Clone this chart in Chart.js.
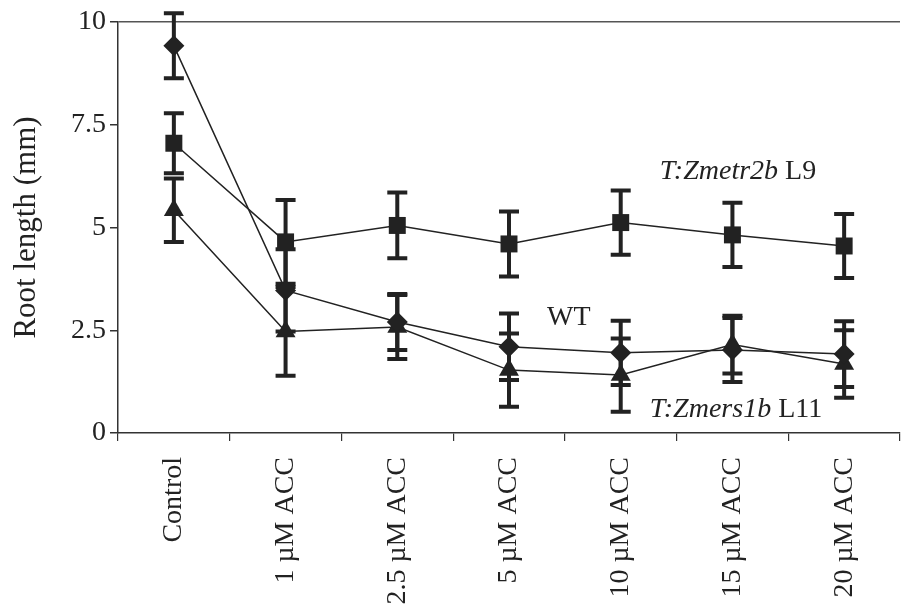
<!DOCTYPE html>
<html lang="en">
<head>
    <meta charset="UTF-8">
    <title>Root length</title>
    <script src="https://cdn.jsdelivr.net/npm/chart.js@4/dist/chart.umd.min.js"></script>
    <style>
        body { margin: 0; background: #fff; }
        #wrap { width: 901px; height: 616px; }
    </style>
</head>
<body>
<div id="wrap"><canvas id="main_chart"></canvas></div>
<script>
    const categories = ['Control', '1 µM ACC', '2.5 µM ACC', '5 µM ACC', '10 µM ACC', '15 µM ACC', '20 µM ACC'];
    const yTicks = [0, 2.5, 5, 7.5, 10];

    // T:Zmetr2b L9 (squares)
    const metrValues = [7.05, 4.65, 5.05, 4.6, 5.12, 4.82, 4.55];
    const metrErrors = [0.73, 1.02, 0.8, 0.79, 0.78, 0.78, 0.78];
    // WT (diamonds)
    const wtValues = [9.42, 3.47, 2.7, 2.1, 1.95, 2.02, 1.92];
    const wtErrors = [0.79, 1.0, 0.68, 0.81, 0.78, 0.78, 0.8];
    // T:Zmers1b L11 (triangles)
    const mersValues = [5.42, 2.47, 2.58, 1.53, 1.41, 2.15, 1.68];
    const mersErrors = [0.77, 1.08, 0.78, 0.89, 0.89, 0.7, 0.82];

    const INK = '#222';
    const FONT = '"Liberation Serif", "Times New Roman", serif';

    // error bars, drawn under the markers
    const errorBarPlugin = {
        id: 'errorBars',
        beforeDatasetsDraw(chart) {
            const ctx = chart.ctx;
            const y = chart.scales.y;
            ctx.save();
            ctx.strokeStyle = INK;
            ctx.lineWidth = 4;
            ctx.lineCap = 'butt';
            chart.data.datasets.forEach((ds, i) => {
                const meta = chart.getDatasetMeta(i);
                meta.data.forEach((pt, j) => {
                    const top = y.getPixelForValue(ds.data[j] + ds.errors[j]);
                    const bottom = y.getPixelForValue(ds.data[j] - ds.errors[j]);
                    ctx.beginPath();
                    ctx.moveTo(pt.x, top);
                    ctx.lineTo(pt.x, bottom);
                    ctx.moveTo(pt.x - 10, top);
                    ctx.lineTo(pt.x + 10, top);
                    ctx.moveTo(pt.x - 10, bottom);
                    ctx.lineTo(pt.x + 10, bottom);
                    ctx.stroke();
                });
            });
            ctx.restore();
        }
    };

    // series names written next to the lines
    const seriesLabels = [
        {italic: 'T:Zmetr2b', plain: ' L9', x: 4.35, y: 6.35},
        {italic: '', plain: 'WT', x: 3.34, y: 2.8},
        {italic: 'T:Zmers1b', plain: ' L11', x: 4.26, y: 0.56}
    ];
    const labelPlugin = {
        id: 'seriesLabels',
        afterDraw(chart) {
            const ctx = chart.ctx;
            ctx.save();
            ctx.fillStyle = INK;
            ctx.textBaseline = 'middle';
            ctx.textAlign = 'left';
            seriesLabels.forEach(l => {
                let px = chart.scales.x.getPixelForValue(l.x);
                const py = chart.scales.y.getPixelForValue(l.y);
                if (l.italic) {
                    ctx.font = 'italic 28px ' + FONT;
                    ctx.fillText(l.italic, px, py);
                    px += ctx.measureText(l.italic).width;
                }
                ctx.font = '28px ' + FONT;
                ctx.fillText(l.plain, px, py);
            });
            ctx.restore();
        }
    };

    function series(label, values, errors, style, radius) {
        return {
            label: label,
            data: values,
            errors: errors,
            borderColor: INK,
            borderWidth: 1.5,
            backgroundColor: INK,
            pointStyle: style,
            pointRadius: radius,
            pointBorderWidth: 0,
            pointBackgroundColor: INK,
            tension: 0
        };
    }

    const chart = new Chart(document.getElementById('main_chart'), {
        type: 'line',
        data: {
            labels: categories,
            datasets: [
                series('T:Zmetr2b L9', metrValues, metrErrors, 'rect', 12),
                series('WT', wtValues, wtErrors, 'rectRot', 10.5),
                series('T:Zmers1b L11', mersValues, mersErrors, 'triangle', 11.5)
            ]
        },
        options: {
            animation: false,
            responsive: true,
            maintainAspectRatio: false,
            layout: {autoPadding: false, padding: {top: 22, right: 1, left: 0, bottom: 0}},
            plugins: {
                legend: {display: false},
                tooltip: {enabled: false}
            },
            scales: {
                x: {
                    offset: true,
                    afterFit(scale) {
                        scale.height = 183;
                        scale.paddingRight = 0;
                        scale.paddingLeft = 0;
                    },
                    grid: {
                        offset: true,
                        drawOnChartArea: false,
                        tickLength: 8,
                        color: '#333',
                        lineWidth: 1.2
                    },
                    border: {color: '#333', width: 1.5},
                    ticks: {
                        color: INK,
                        font: {family: FONT, size: 28},
                        minRotation: 90,
                        maxRotation: 90,
                        padding: 16,
                        autoSkip: false
                    }
                },
                y: {
                    min: 0,
                    max: 10,
                    afterFit(scale) { scale.width = 118; },
                    afterBuildTicks(scale) {
                        scale.ticks = yTicks.map(v => ({value: v}));
                    },
                    grid: {
                        color: ctx => ctx.tick && ctx.tick.value === 10 ? '#555' : 'rgba(0,0,0,0)',
                        tickColor: '#333',
                        lineWidth: 1.5,
                        tickLength: 8,
                        drawTicks: true
                    },
                    border: {color: '#333', width: 1.5},
                    ticks: {
                        color: INK,
                        font: {family: FONT, size: 28},
                        padding: 4,
                        callback: v => String(v)
                    },
                    title: {
                        display: true,
                        text: 'Root length (mm)',
                        color: INK,
                        font: {family: FONT, size: 31},
                        padding: {top: 8, bottom: 0}
                    }
                }
            }
        },
        plugins: [errorBarPlugin, labelPlugin]
    });
</script>
</body>
</html>
